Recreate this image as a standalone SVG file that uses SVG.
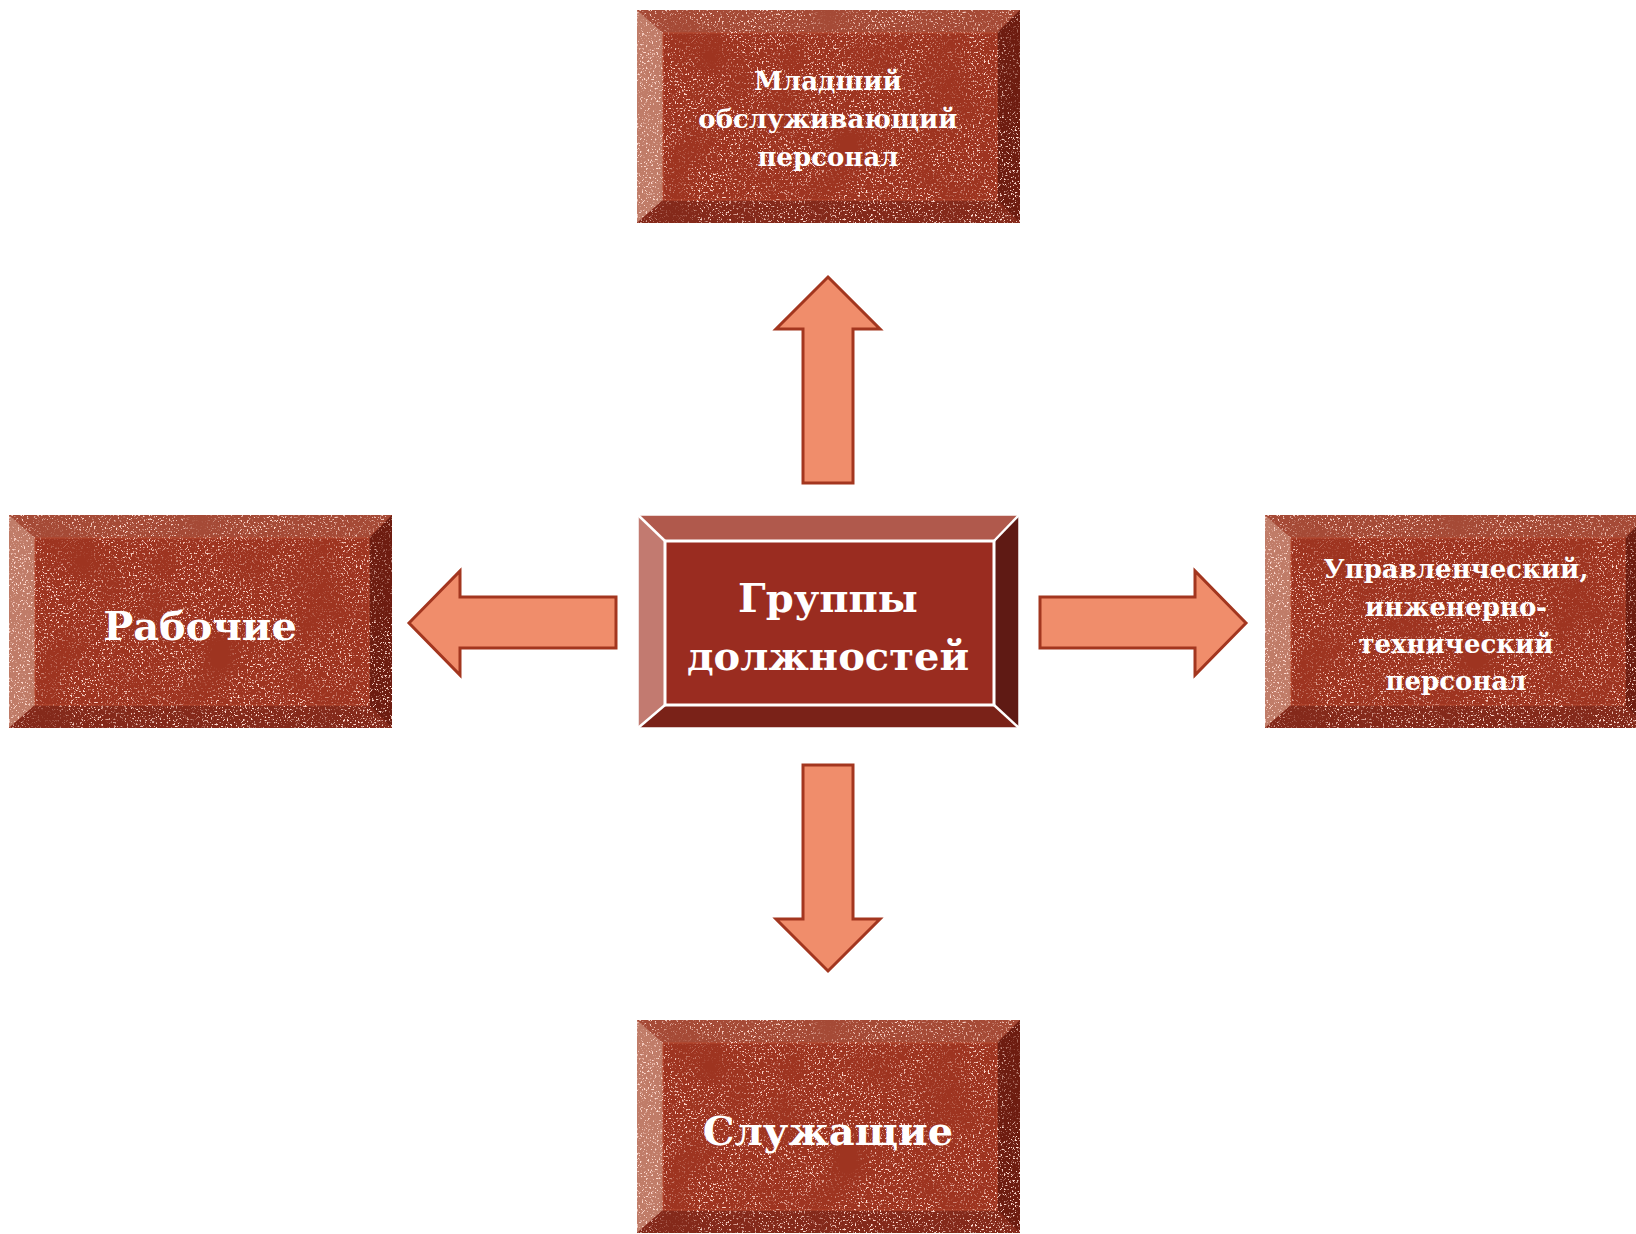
<svg xmlns="http://www.w3.org/2000/svg" xmlns:xlink="http://www.w3.org/1999/xlink" width="1636" height="1234" viewBox="0 0 1636 1234">
<style>
.lbl{font-family:"DejaVu Serif","Liberation Serif",serif;font-weight:bold;fill:#ffffff;text-anchor:middle}
.arrow{fill:#f08d6b;stroke:#a3361f;stroke-width:3;stroke-linejoin:miter}
</style>
<defs>
<filter id="grain" x="0" y="0" width="100%" height="100%" color-interpolation-filters="sRGB">
<feTurbulence type="fractalNoise" baseFrequency="0.55" numOctaves="2" seed="7" result="n"/>
<feColorMatrix in="n" type="matrix" values="0 0 0 0 1  0 0 0 0 0.86  0 0 0 0 0.82  8 0 0 0 -4.7" result="s"/>
<feTurbulence type="fractalNoise" baseFrequency="0.018" numOctaves="2" seed="3" result="m"/>
<feColorMatrix in="m" type="matrix" values="0 0 0 0 0  0 0 0 0 0  0 0 0 0 0  3 0 0 0 -0.7" result="mm"/>
<feComposite in="s" in2="mm" operator="in" result="s2"/>
<feComposite in="s2" in2="SourceAlpha" operator="in" result="s3"/>
<feMerge><feMergeNode in="SourceGraphic"/><feMergeNode in="s3"/></feMerge>
</filter>
<g id="brick">
<rect x="0" y="0" width="383" height="213" fill="#9c3320"/>
<polygon points="0,0 383,0 360,23 26,23" fill="#a54a36"/>
<polygon points="0,0 26,23 26,190 0,213" fill="#c07c68"/>
<polygon points="383,0 383,213 360,190 360,23" fill="#6d1c10"/>
<polygon points="0,213 26,190 360,190 383,213" fill="#84291a"/>
<rect x="26" y="23" width="334" height="167" fill="#9e3420"/>
<rect x="26" y="23" width="334" height="167" fill="none" stroke="#b84a30" stroke-width="1"/>
</g>
</defs>

<g id="connectors">
<polygon class="arrow" points="828,277 880,329 853,329 853,483 803,483 803,329 776,329"/>
<polygon class="arrow" points="828,971 880,919 853,919 853,765 803,765 803,919 776,919"/>
<polygon class="arrow" points="409,623 460,571 460,597 616,597 616,648 460,648 460,675"/>
<polygon class="arrow" points="1246,623 1195,571 1195,597 1040,597 1040,648 1195,648 1195,675"/>
</g>

<g id="node-center">
<rect x="638" y="515" width="381" height="213" fill="#9a2c20"/>
<polygon points="638,515 1019,515 994,541 665,541" fill="#b0594c"/>
<polygon points="638,515 665,541 665,705 638,728" fill="#c27a70"/>
<polygon points="1019,515 1019,728 994,705 994,541" fill="#5f1a14"/>
<polygon points="638,728 665,705 994,705 1019,728" fill="#7a2218"/>
<rect x="665" y="541" width="329" height="164" fill="#9a2c20" stroke="#ffffff" stroke-width="3"/>
<g stroke="#ffffff" stroke-width="2.5">
<line x1="638" y1="515" x2="665" y2="541"/>
<line x1="1019" y1="515" x2="994" y2="541"/>
<line x1="638" y1="728" x2="665" y2="705"/>
<line x1="1019" y1="728" x2="994" y2="705"/>
</g>
<rect x="638" y="515" width="381" height="213" fill="none" stroke="#ffffff" stroke-width="1.5"/>
<text class="lbl" x="828" y="612" font-size="40">Группы</text>
<text class="lbl" x="828" y="670" font-size="40">должностей</text>
</g>

<g id="node-top">
<use xlink:href="#brick" href="#brick" x="637" y="10" filter="url(#grain)"/>
<text class="lbl" x="828" y="90" font-size="26">Младший</text>
<text class="lbl" x="828" y="128" font-size="26">обслуживающий</text>
<text class="lbl" x="828" y="166" font-size="26">персонал</text>
</g>

<g id="node-left">
<use xlink:href="#brick" href="#brick" x="9" y="515" filter="url(#grain)"/>
<text class="lbl" x="200" y="640" font-size="40">Рабочие</text>
</g>

<g id="node-right">
<use xlink:href="#brick" href="#brick" x="1265" y="515" filter="url(#grain)"/>
<text class="lbl" x="1456" y="578" font-size="26">Управленческий,</text>
<text class="lbl" x="1456" y="616" font-size="26">инженерно-</text>
<text class="lbl" x="1456" y="653" font-size="26">технический</text>
<text class="lbl" x="1456" y="690" font-size="26">персонал</text>
</g>

<g id="node-bottom">
<use xlink:href="#brick" href="#brick" x="637" y="1020" filter="url(#grain)"/>
<text class="lbl" x="828" y="1145" font-size="40">Служащие</text>
</g>
</svg>
